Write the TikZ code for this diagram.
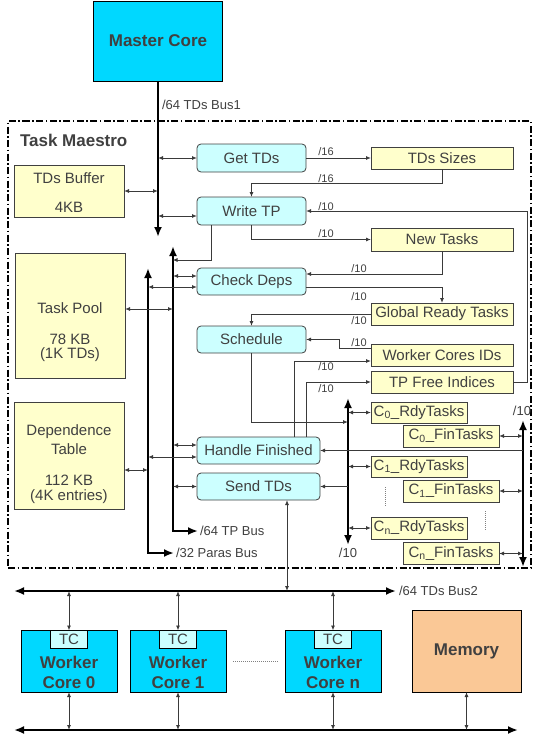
\documentclass[tikz,border=0pt]{standalone}
\usepackage{fontspec}
\setmainfont{Liberation Sans}
\usetikzlibrary{arrows.meta}
\definecolor{txtc}{HTML}{404040}
\definecolor{linec}{HTML}{3A3A3A}
\definecolor{boxline}{HTML}{404040}
\definecolor{cyanc}{HTML}{00D8FF}
\definecolor{lcyan}{HTML}{CCFFFF}
\definecolor{lyellow}{HTML}{FFFFCC}
\definecolor{memc}{HTML}{FAC896}
\newcommand\myfmain{\fontsize{15}{17}\selectfont}
\newcommand\mybold{\fontsize{17}{20}\selectfont\bfseries}
\newcommand\mybus{\fontsize{13}{15}\selectfont}
\newcommand\mywid{\fontsize{11}{13}\selectfont}
\begin{document}
\begin{tikzpicture}[x=1pt,y=-1pt,
  every node/.style={text=txtc, inner sep=0pt, outer sep=0pt},
  proc/.style={draw=boxline, line width=0.8pt, fill=lcyan, rounded corners=4pt, font=\myfmain},
  store/.style={draw=boxline, line width=0.8pt, fill=lyellow, font=\myfmain},
  corebox/.style={draw=black, line width=0.9pt, fill=cyanc, minimum width=96pt, minimum height=61.5pt},
  tcbox/.style={draw=black, line width=0.8pt, fill=lcyan, font=\myfmain, minimum width=37pt, minimum height=17.5pt},
  membox/.style={draw=black, line width=0.9pt, fill=memc},
  frame/.style={draw=black, line width=1.3pt, dash pattern=on 7pt off 2.5pt on 1.5pt off 2.5pt},
  arr/.style={draw=linec, line width=0.9pt, -{Latex[length=5pt,width=4pt]}},
  dbl/.style={draw=linec, line width=0.9pt, {Latex[length=5pt,width=4pt]}-{Latex[length=5pt,width=4pt]}},
  busarr/.style={draw=black, line width=2.6pt, -{Latex[length=10pt,width=8pt]}},
  busdbl/.style={draw=black, line width=2.6pt, {Latex[length=10pt,width=8pt]}-{Latex[length=10pt,width=8pt]}},
  wlab/.style={font=\mywid},
  blab/.style={font=\mybus},
  dotline/.style={draw=gray, line width=0.9pt, dash pattern=on 1pt off 1pt}]
\useasboundingbox (0,0) rectangle (534,734);

% frame
\node[frame, minimum width=523pt, minimum height=447pt] (maestro) at (269.5,344.5) {};
\node[anchor=west, font=\mybold] (tmlabel) at (20,140) {Task Maestro};

% master core
\node[corebox, minimum width=129pt, minimum height=80pt, font=\mybold] (master) at (158,41) {Master Core};

% storage on the left
\node[store, minimum width=110pt, minimum height=52pt] (tdbuf) at (69,191) {};
\node[font=\myfmain] (tdbuft1) at (69,178) {TDs Buffer};
\node[font=\myfmain] (tdbuft2) at (69,207) {4KB};
\node[store, minimum width=110pt, minimum height=125pt] (taskpool) at (70,315.5) {};
\node[font=\myfmain] (tpt1) at (70,308) {Task Pool};
\node[font=\myfmain] (tpt2) at (70,339) {78 KB};
\node[font=\myfmain] (tpt3) at (70,355) {(1K TDs)};
\node[store, minimum width=110pt, minimum height=107pt] (deptable) at (69,455.5) {};
\node[font=\myfmain] (dtt1) at (69,432) {Dependence};
\node[font=\myfmain] (dtt2) at (69,449) {Table};
\node[font=\myfmain] (dtt3) at (69,480) {112 KB};
\node[font=\myfmain] (dtt4) at (69,497) {(4K entries)};

% process boxes
\node[proc, minimum width=109pt, minimum height=28pt] (gettds) at (251.5,158) {Get TDs};
\node[proc, minimum width=109pt, minimum height=28pt] (writetp) at (251.5,211) {Write TP};
\node[proc, minimum width=109pt, minimum height=27pt] (checkdeps) at (251.5,281.5) {Check Deps};
\node[proc, minimum width=109pt, minimum height=27pt] (schedule) at (251.5,339.5) {Schedule};
\node[proc, minimum width=123pt, minimum height=27pt] (handlefin) at (258.5,450.5) {Handle Finished};
\node[proc, minimum width=123pt, minimum height=27pt] (sendtds) at (258.5,486.5) {Send TDs};

% tables on the right
\node[store, minimum width=142pt, minimum height=22pt] (tdsizes) at (442,158) {TDs Sizes};
\node[store, minimum width=142pt, minimum height=23pt] (newtasks) at (442,239.5) {New Tasks};
\node[store, minimum width=142pt, minimum height=22pt] (grt) at (442,314) {Global Ready Tasks};
\node[store, minimum width=142pt, minimum height=22pt] (wcids) at (442,355) {Worker Cores IDs};
\node[store, minimum width=142pt, minimum height=22pt] (tpfree) at (442,382) {TP Free Indices};
\node[store, minimum width=96pt, minimum height=21pt] (c0r) at (419,412.5) {C\textsubscript{0}\_RdyTasks};
\node[store, minimum width=96pt, minimum height=22pt] (c0f) at (451,436) {C\textsubscript{0}\_FinTasks};
\node[store, minimum width=96pt, minimum height=21pt] (c1r) at (419,466.5) {C\textsubscript{1}\_RdyTasks};
\node[store, minimum width=96pt, minimum height=22pt] (c1f) at (451,491) {C\textsubscript{1}\_FinTasks};
\node[store, minimum width=96pt, minimum height=22pt] (cnr) at (419,528) {C\textsubscript{n}\_RdyTasks};
\node[store, minimum width=96pt, minimum height=22pt] (cnf) at (451,553.5) {C\textsubscript{n}\_FinTasks};

% bus coordinates and labels
\coordinate (b1end) at (158,237);
\coordinate (tptop) at (173,246);
\coordinate (tpbot) at (173,531);
\coordinate (ptop) at (148,268);
\coordinate (pbot) at (148,553);
\coordinate (rdytop) at (348,398);
\coordinate (rdybot) at (348,545);
\coordinate (fintop) at (523,420);
\coordinate (finbot) at (523,567);
\node[blab, anchor=west] (b1lab) at (162,105) {/64 TDs Bus1};
\node[blab, anchor=west] (tplab) at (200,531) {/64 TP Bus};
\node[blab, anchor=west] (plab) at (176,553) {/32 Paras Bus};
\node[blab] (rdylab) at (348,553) {/10};
\node[blab] (finlab) at (522,411) {/10};

% buses
\draw[busarr] (master.south) -- (b1end);
\draw[busdbl] (tptop) -- (tpbot) -- ([xshift=-2pt]tplab.west);
\draw[busdbl] (ptop) -- (pbot) -- ([xshift=-2pt]plab.west);
\draw[busdbl] (rdytop) -- (rdybot);
\draw[busdbl] (fintop) -- (finbot);

% bus1 links
\draw[dbl] (tdbuf.east) -- (tdbuf.east -| b1end);
\draw[dbl] (gettds.west -| b1end) -- (gettds.west);
\draw[dbl] ([yshift=-5pt]writetp.west -| b1end) -- ([yshift=-5pt]writetp.west);

% TP bus and Paras bus links
\draw[arr] ([xshift=-40.5pt]writetp.south) |- ++(-38.5,35);
\draw[dbl] ([yshift=6.5pt]taskpool.east) -- ([yshift=6.5pt]taskpool.east -| tptop);
\draw[dbl] ([yshift=-14.5pt]deptable.east) -- ([yshift=-14.5pt]deptable.east -| ptop);
\draw[dbl] ([yshift=5.5pt]checkdeps.west -| tptop) -- ([yshift=5.5pt]checkdeps.west);
\draw[dbl] ([yshift=-5.5pt]checkdeps.west -| ptop) -- ([yshift=-5.5pt]checkdeps.west);
\draw[dbl] ([yshift=5.5pt]handlefin.west -| tptop) -- ([yshift=5.5pt]handlefin.west);
\draw[dbl] ([yshift=-6.5pt]handlefin.west -| ptop) -- ([yshift=-6.5pt]handlefin.west);
\draw[dbl] (sendtds.west -| tptop) -- (sendtds.west);

% control flow
\draw[arr] (gettds.east) -- (tdsizes.west);
\draw[arr] (tdsizes.south) -- ++(0,14) -| (writetp.north);
\draw[arr] (tpfree.east) -- ++(14,0) |- (writetp.east);
\draw[arr] (writetp.south) |- (newtasks.west);
\draw[arr] (newtasks.south) |- ([yshift=7.5pt]checkdeps.east);
\draw[arr] ([yshift=-5.5pt]checkdeps.east) -| (grt.north);
\draw[arr] (grt.west) -| (schedule.north);
\draw[arr] ([yshift=6.5pt]wcids.west) -- ++(-32,0) |- (schedule.east);
\draw[arr] ([xshift=35.5pt]handlefin.north) |- ([yshift=-6pt]wcids.west);
\draw[arr] ([xshift=47.5pt]handlefin.north) |- (tpfree.west);
\draw[arr] (schedule.south) |- ++(96.5,69);
\draw[arr] (sendtds.east -| rdytop) -- (sendtds.east);
\draw[arr] (handlefin.east -| fintop) -- (handlefin.east);

% per-core tables
\draw[dbl] (c0r.west -| rdytop) -- (c0r.west);
\draw[dbl] (c1r.west -| rdytop) -- (c1r.west);
\draw[dbl] (cnr.west -| rdytop) -- (cnr.west);
\draw[dbl] (c0f.east) -- (c0f.east -| fintop);
\draw[dbl] (c1f.east) -- (c1f.east -| fintop);
\draw[dbl] (cnf.east) -- (cnf.east -| fintop);
\draw[dotline] (385,487) -- (385,507);
\draw[dotline] (485,511) -- (485,530);

% width labels
\node[wlab] (w1) at (326,152) {/16};
\node[wlab] (w2) at (326,179) {/16};
\node[wlab] (w3) at (326,207) {/10};
\node[wlab] (w4) at (326,234) {/10};
\node[wlab] (w5) at (359,269) {/10};
\node[wlab] (w6) at (359,297) {/10};
\node[wlab] (w7) at (359,321) {/10};
\node[wlab] (w8) at (359,343) {/10};
\node[wlab] (w9) at (326,367) {/10};
\node[wlab] (w10) at (326,389) {/10};

% bottom part
\coordinate (b2l) at (14,591);
\coordinate (b3l) at (14,730);
\coordinate (b3r) at (518,730);
\node[blab, anchor=west] (b2lab) at (399,591) {/64 TDs Bus2};
\draw[busdbl] (b2l) -- ([xshift=-3pt]b2lab.west);
\draw[busdbl] (b3l) -- (b3r);

\node[corebox] (core0) at (69,661.25) {};
\node[corebox] (core1) at (178,661.25) {};
\node[corebox] (coren) at (333,661.25) {};
\node[tcbox, anchor=north] (tc0) at (core0.north) {TC};
\node[tcbox, anchor=north] (tc1) at (core1.north) {TC};
\node[tcbox, anchor=north] (tcn) at (coren.north) {TC};
\node[font=\mybold, align=center] (core0t) at (69,672) {Worker\\Core 0};
\node[font=\mybold, align=center] (core1t) at (178,672) {Worker\\Core 1};
\node[font=\mybold, align=center] (corent) at (333,672) {Worker\\Core n};
\node[membox, minimum width=109pt, minimum height=82pt, font=\mybold] (memory) at (466.5,651) {Memory};
\draw[dotline] ([xshift=7pt]core1.east) -- ([xshift=-6pt]coren.west);

\coordinate (sdt) at ([xshift=28.5pt]sendtds.south);
\draw[dbl] (sdt) -- (sdt |- b2l);
\draw[dbl] (tc0.north |- b2l) -- (tc0.north);
\draw[dbl] (tc1.north |- b2l) -- (tc1.north);
\draw[dbl] (tcn.north |- b2l) -- (tcn.north);
\draw[dbl] (core0.south) -- (core0.south |- b3l);
\draw[dbl] (core1.south) -- (core1.south |- b3l);
\draw[dbl] (coren.south) -- (coren.south |- b3l);
\draw[dbl] (memory.south) -- (memory.south |- b3l);
\end{tikzpicture}
\end{document}
